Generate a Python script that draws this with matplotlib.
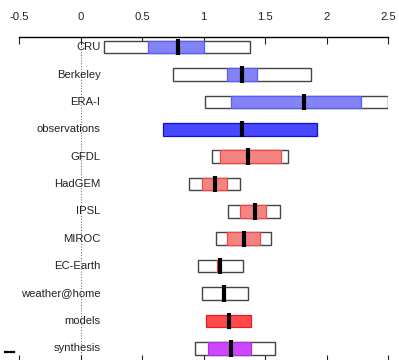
import matplotlib.pyplot as plt
from matplotlib.lines import Line2D

plt.rcParams['font.family'] = ['Liberation Sans', 'DejaVu Sans']

names = ['CRU', 'Berkeley', 'ERA-I', 'observations', 'GFDL', 'HadGEM', 'IPSL',
         'MIROC', 'EC-Earth', 'weather@home', 'models', 'synthesis']
# outer (white) interval, None where there is only one bar
outer_lo = [0.195, 0.748, 1.01, None, 1.07, 0.884, 1.20, 1.103, 0.957, 0.989, None, 0.927]
outer_hi = [1.38, 1.873, 2.50, None, 1.69, 1.30, 1.62, 1.55, 1.32, 1.36, None, 1.58]
# inner (coloured) interval
inner_lo = [0.545, 1.19, 1.22, 0.67, 1.138, 0.986, 1.30, 1.19, 1.111, None, 1.02, 1.04]
inner_hi = [1.0, 1.433, 2.28, 1.92, 1.63, 1.19, 1.51, 1.46, 1.138, None, 1.39, 1.39]
best = [0.79, 1.309, 1.82, 1.31, 1.36, 1.09, 1.42, 1.33, 1.138, 1.17, 1.21, 1.22]
kind = ['obs', 'obs', 'obs', 'obssum', 'mod', 'mod', 'mod', 'mod', 'mod', 'mod', 'modsum', 'syn']

styles = {
    'obs': dict(fc='#8383f5', ec='#5a5aff'),
    'obssum': dict(fc='#4848ff', ec='#1010d0'),
    'mod': dict(fc='#f48484', ec='#f04848'),
    'modsum': dict(fc='#ff4a4a', ec='#e02020'),
    'syn': dict(fc='#cc48ff', ec='#b030e0'),
}

fig = plt.figure(figsize=(3.99, 3.6), dpi=100)
ax = fig.add_axes([19 / 399, -2 / 360, 369 / 399, 325 / 360])

h = 0.46
for i, n in enumerate(names):
    if outer_lo[i] is not None:
        ax.barh(i, outer_hi[i] - outer_lo[i], left=outer_lo[i], height=h,
                color='white', edgecolor='#444444', linewidth=1.0, zorder=2)
    if inner_lo[i] is not None:
        st = styles[kind[i]]
        ax.barh(i, inner_hi[i] - inner_lo[i], left=inner_lo[i], height=h,
                color=st['fc'], edgecolor=st['ec'], linewidth=0.9, zorder=3)
    ax.plot([best[i], best[i]], [i - 0.3, i + 0.3], color='black', lw=3.0,
            solid_capstyle='butt', zorder=4)
    ax.text(0.163, i, n, ha='right', va='center', fontsize=8.1, color='#222222', zorder=5)

ax.axvline(0, color='#777777', lw=0.8, ls=(0, (1, 1.5)), zorder=1)

ax.set_xlim(-0.5, 2.5)
ax.set_ylim(11.5, -0.37)
ax.set_xticks([-0.5, 0, 0.5, 1, 1.5, 2, 2.5])
ax.set_xticklabels(['-0.5', '0', '0.5', '1', '1.5', '2', '2.5'])
ax.xaxis.set_ticks_position('both')
ax.xaxis.set_label_position('top')
ax.tick_params(axis='x', direction='in', length=5, width=0.8, labeltop=True,
               labelbottom=False, labelsize=8.1, pad=11, colors='#222222')
ax.set_yticks([])
ax.spines['left'].set_visible(False)
ax.spines['right'].set_visible(False)
ax.spines['top'].set_linewidth(1.0)
ax.spines['bottom'].set_linewidth(1.0)

fig.add_artist(Line2D([5 / 399, 14 / 399], [8 / 360, 8 / 360], color='black', lw=1.6))

fig.savefig('out.png', dpi=100)
